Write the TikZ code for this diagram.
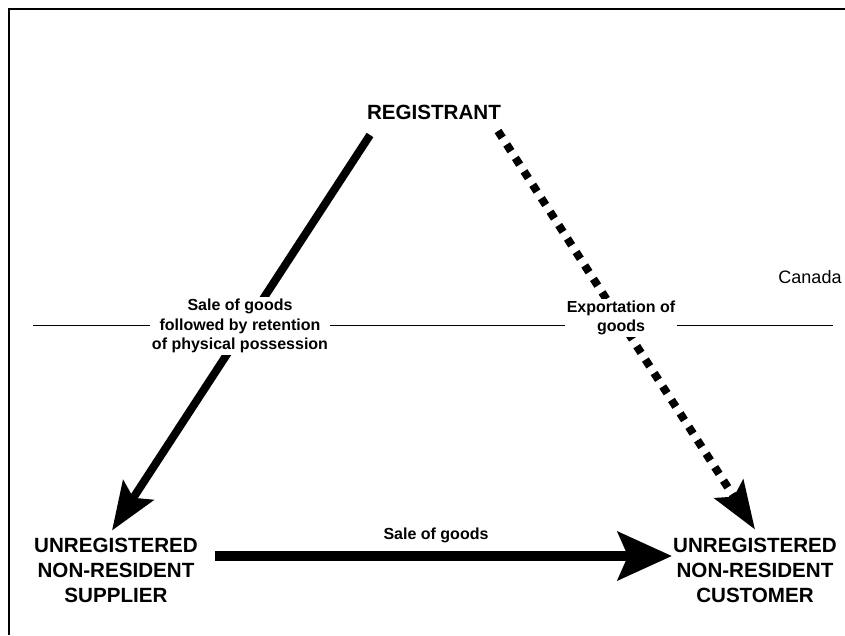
\documentclass[tikz,border=0pt]{standalone}
\usepackage{fontspec}
\setmainfont{Liberation Sans}
\usepackage{tikz}
\usetikzlibrary{arrows.meta,positioning}

\tikzset{
  party/.style={font=\bfseries\fontsize{20.6}{25}\selectfont,align=center,inner sep=0pt},
  flowlbl/.style={font=\bfseries\fontsize{16}{19.5}\selectfont,align=center,fill=white,inner sep=2pt},
  bigarrow/.style={line width=10pt,-{Stealth[length=54pt,width=48pt,inset=10pt]}}
}

\begin{document}
\begin{tikzpicture}[x=1pt,y=-1pt]
    \useasboundingbox (0,0) rectangle (845,635);

    % Frame
    \draw[line width=2pt] (9,635) -- (9,9) -- (845,9);

    % Border line
    \coordinate (bordL) at (33,325);
    \coordinate (bordR) at (833,325);
    \draw[line width=0.9pt] (bordL) -- (bordR);
    \node[font=\fontsize{18}{22}\selectfont] (canada) at (810,277) {Canada};

    % Parties
    \node[party] (reg) at (434,112) {REGISTRANT};
    \node[party] (sup) at (116,570) {UNREGISTERED\\NON-RESIDENT\\SUPPLIER};
    \node[party] (cus) at (755,570) {UNREGISTERED\\NON-RESIDENT\\CUSTOMER};

    % Flows
    \coordinate (regL) at (370,135);
    \coordinate (regR) at (498,131);
    \draw[line width=8pt,-{Stealth[length=48pt,width=36pt,inset=9pt]}] (regL) -- ([xshift=-4pt,yshift=7pt]sup.north);
    \draw[line width=8pt,dash pattern=on 8pt off 8pt,-{Stealth[length=48pt,width=34pt,inset=9pt]}] (regR) -- ([yshift=8pt]cus.north);
    \draw[bigarrow] ([yshift=14pt,xshift=17pt]sup.east) -- ([yshift=14pt,xshift=-1pt]cus.west);

    % Labels
    \node[flowlbl] (lblret) at (240,326) {Sale of goods\\followed by retention\\of physical possession};
    \node[flowlbl] (lblexp) at (621,318) {Exportation of\\goods};
    \node[flowlbl,fill=none] (lblsale) at (436,535) {Sale of goods};
\end{tikzpicture}
\end{document}
